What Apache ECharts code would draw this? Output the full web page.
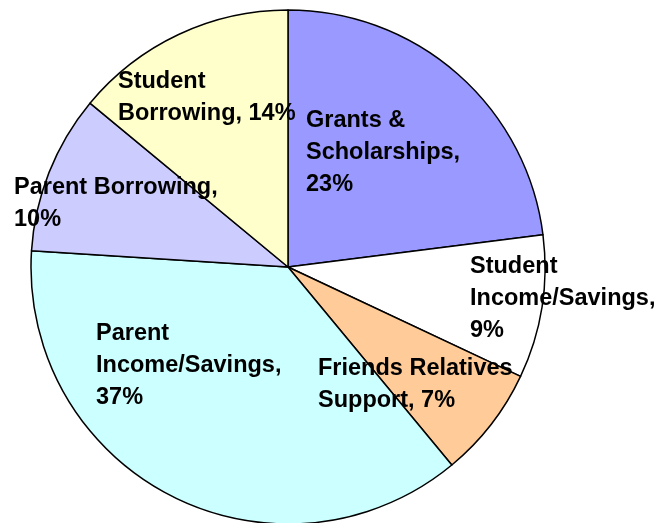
<!DOCTYPE html>
<html>
<head>
<meta charset="utf-8">
<script src="https://cdn.jsdelivr.net/npm/echarts@6/dist/echarts.min.js"></script>
<style>
html,body{margin:0;padding:0;background:#fff;}
#chart{width:659px;height:523px;}
</style>
</head>
<body>
<div id="chart"></div>
<script>
const categories = ['Grants &\nScholarships', 'Student\nIncome/Savings', 'Friends Relatives\nSupport', 'Parent\nIncome/Savings', 'Parent Borrowing', 'Student\nBorrowing'];
const values = [23, 9, 7, 37, 10, 14];
const valueOnNewLine = [true, true, false, true, true, false];
const colors = ['#9999FF', '#FFFFFF', '#FFCC99', '#CCFFFF', '#CCCCFF', '#FFFFCC'];
// label top-left positions (layout only)
const labelPos = [[306, 105], [470, 251], [318, 353], [96, 318], [14, 172], [118, 66]];

const chart = echarts.init(document.getElementById('chart'), null, {renderer: 'canvas'});
chart.setOption({
  animation: false,
  backgroundColor: '#ffffff',
  series: [{
    type: 'pie',
    center: [288, 267],
    radius: [0, 257],
    startAngle: 90,
    clockwise: true,
    avoidLabelOverlap: false,
    emphasis: {disabled: true},
    itemStyle: {borderColor: '#000', borderWidth: 1.5},
    label: {
      show: true,
      position: 'inside',
      color: '#000',
      fontFamily: 'Liberation Sans, Arial, sans-serif',
      fontWeight: 'bold',
      fontSize: 23.5,
      lineHeight: 32,
      align: 'left',
      formatter: function (p) {
        return p.name + ',' + (valueOnNewLine[p.dataIndex] ? '\n' : ' ') + p.value + '%';
      }
    },
    labelLine: {show: false},
    labelLayout: function (params) {
      const pos = labelPos[params.dataIndex];
      return {x: pos[0], y: pos[1], align: 'left', verticalAlign: 'top'};
    },
    data: categories.map(function (c, i) {
      return {name: c, value: values[i], itemStyle: {color: colors[i]}};
    })
  }]
});
</script>
</body>
</html>
